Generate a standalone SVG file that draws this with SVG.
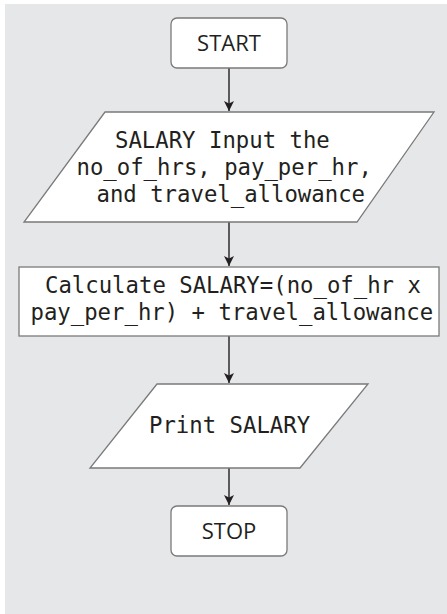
<svg xmlns="http://www.w3.org/2000/svg" width="447" height="614" viewBox="0 0 447 614">
  <style>
    .shape { fill: #ffffff; stroke: #7a7a7a; stroke-width: 1.3; }
    .mono { font-family: "DejaVu Sans Mono", "Liberation Mono", monospace; font-size: 22.3px; fill: #231f20; }
    .sans { font-family: "Open Sans", "Noto Sans", "Liberation Sans", sans-serif; font-size: 22px; fill: #231f20; text-anchor: middle; }
    .flow { stroke: #231f20; stroke-width: 1.4; fill: none; marker-end: url(#arrow); }
  </style>
  <defs>
    <marker id="arrow" viewBox="0 0 10 12" refX="10" refY="5" markerWidth="10" markerHeight="12" markerUnits="userSpaceOnUse" orient="auto">
      <path d="M0,0 L10,5 L0,10 L2.5,5 Z" fill="#231f20"/>
    </marker>
  </defs>

  <!-- background panel -->
  <rect x="5" y="4" width="442" height="610" fill="#e6e7e8"/>

  <g id="connectors">
    <line class="flow" x1="229" y1="68" x2="229" y2="111"/>
    <line class="flow" x1="229" y1="222" x2="229" y2="266"/>
    <line class="flow" x1="229" y1="336" x2="229" y2="383"/>
    <line class="flow" x1="229" y1="468" x2="229" y2="505"/>
  </g>

  <g id="start">
    <rect class="shape" x="171" y="18" width="116" height="50" rx="6"/>
    <text class="sans" x="229" y="51">START</text>
  </g>

  <g id="input">
    <polygon class="shape" points="105,112 434,112 357,222 24,222"/>
    <text class="mono" x="115" y="148">SALARY Input the</text>
    <text class="mono" x="76.5" y="175">no_of_hrs, pay_per_hr,</text>
    <text class="mono" x="96.5" y="202">and travel_allowance</text>
  </g>

  <g id="calculate">
    <rect class="shape" x="19" y="267" width="420" height="69"/>
    <text class="mono" x="45" y="293">Calculate SALARY=(no_of_hr x</text>
    <text class="mono" x="30.5" y="320">pay_per_hr) + travel_allowance</text>
  </g>

  <g id="print">
    <polygon class="shape" points="157,384 368,384 300,468 90,468"/>
    <text class="mono" x="149" y="433">Print SALARY</text>
  </g>

  <g id="stop">
    <rect class="shape" x="171" y="506" width="116" height="50" rx="6"/>
    <text class="sans" x="229" y="539">STOP</text>
  </g>
</svg>
